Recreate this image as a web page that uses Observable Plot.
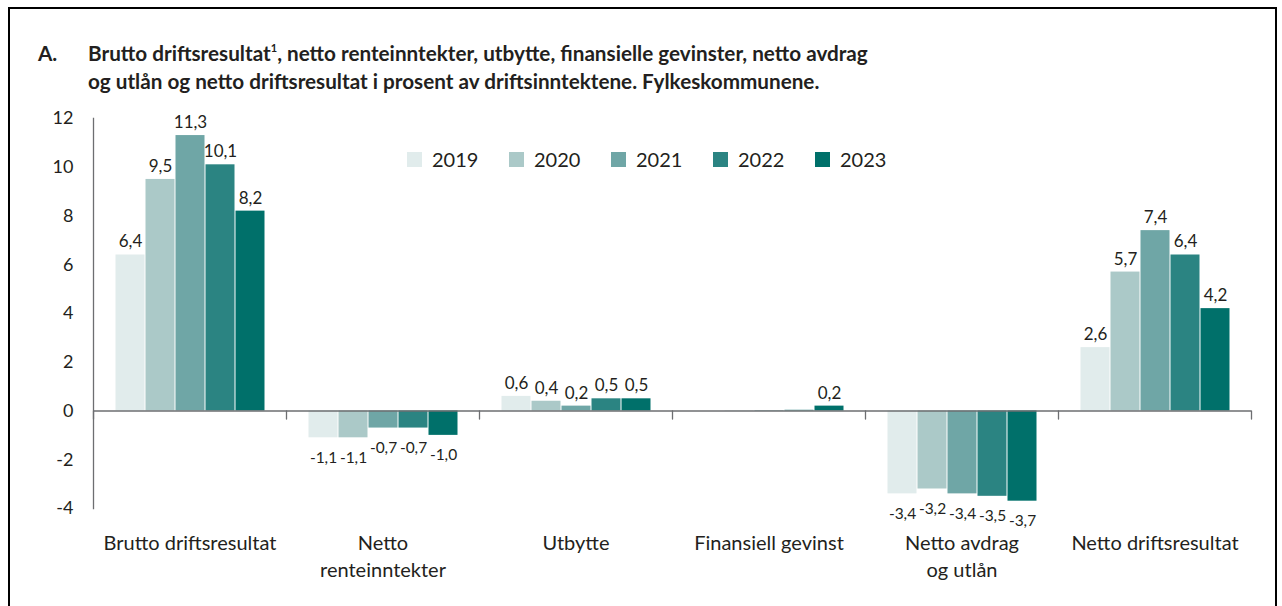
<!DOCTYPE html>
<html><head><meta charset="utf-8">
<script src="https://cdn.jsdelivr.net/npm/d3@7"></script>
<script src="https://cdn.jsdelivr.net/npm/@observablehq/plot@0.6"></script>
<style>
body{margin:0;background:#fff;font-family:Lato,"Noto Sans",sans-serif;color:#231f20}
#wrap{position:relative;width:1282px;height:606px;overflow:hidden;background:#fff}
#border{position:absolute;left:8px;top:7px;width:1269px;height:700px;border:2px solid #000;box-sizing:border-box}
#title{position:absolute;left:38px;top:41px;font-weight:700;font-size:20.7px;line-height:25px;display:flex}
#title .lab{width:50px}
#title sup{font-size:11px;vertical-align:0;position:relative;top:-9px}
#chart{position:absolute;left:0;top:100px}
#legend{position:absolute;left:407px;top:147px;display:flex;font-size:20px;z-index:2}
#legend .item{width:102px;display:flex;align-items:center}
#legend .sw{width:15px;height:15px;margin-right:10px}
</style></head>
<body><div id="wrap">
<div id="border"></div>
<div id="title"><div class="lab">A.</div><div>Brutto driftsresultat<sup>1</sup>, netto renteinntekter, utbytte, finansielle gevinster, netto avdrag<br>og utlån og netto driftsresultat i prosent av driftsinntektene. Fylkeskommunene.</div></div>
<div id="chart"></div>
<div id="legend"></div>
</div>
<script>
const categories = ["Brutto driftsresultat", "Netto\nrenteinntekter", "Utbytte", "Finansiell gevinst", "Netto avdrag\nog utlån", "Netto driftsresultat"];
const years = ["2019", "2020", "2021", "2022", "2023"];
const values2019 = [6.4, -1.1, 0.6, 0.0, -3.4, 2.6];
const values2020 = [9.5, -1.1, 0.4, 0.01, -3.2, 5.7];
const values2021 = [11.3, -0.7, 0.2, 0.02, -3.4, 7.4];
const values2022 = [10.1, -0.7, 0.5, 0.03, -3.5, 6.4];
const values2023 = [8.2, -1.0, 0.5, 0.2, -3.7, 4.2];
const colors = ["#e1ecec", "#abc9c8", "#6fa6a6", "#2b8482", "#00706a"];
const yTicks = [-4, -2, 0, 2, 4, 6, 8, 10, 12];

const series = [values2019, values2020, values2021, values2022, values2023];
const data = [];
years.forEach((yr, i) => categories.forEach((c, j) => data.push({category: c, year: yr, value: series[i][j]})));
const fmt = v => v.toFixed(1).replace(".", ",");
const pos = data.filter(d => d.value >= 0.05);
const neg = data.filter(d => d.value <= -0.05);

const tickShape = {draw(context, l) { context.moveTo(0, 0); context.lineTo(0, -l); }};

const plot = Plot.plot({
  width: 1282, height: 506,
  marginLeft: 91, marginRight: 29, marginTop: 18, marginBottom: 98,
  style: {fontFamily: "Lato, 'Noto Sans', sans-serif", fontSize: "18px", color: "#231f20", background: "transparent"},
  fx: {domain: categories, padding: 0, label: null, axis: null},
  x: {domain: years, paddingInner: 0, paddingOuter: 0.7, axis: null},
  y: {domain: [-4, 12], ticks: yTicks, label: null, axis: null},
  color: {domain: years, range: colors},
  marks: [
    Plot.barY(data, {fx: "category", x: "year", y: "value", fill: "year", insetLeft: 0.5, insetRight: 0.5}),
    Plot.ruleY([0], {stroke: "#6d6e71", strokeWidth: 1.3}),
    Plot.frame({anchor: "left", fx: () => categories[0], stroke: "#6d6e71", strokeWidth: 1.3}),
    Plot.vector([0], {y: d => d, frameAnchor: "left", length: 8, rotate: 180, anchor: "start", shape: tickShape, stroke: "#6d6e71", strokeWidth: 1.3}),
    Plot.vector([categories[5]], {fx: d => d, y: () => 0, frameAnchor: "right", length: 8, rotate: 180, anchor: "start", shape: tickShape, stroke: "#6d6e71", strokeWidth: 1.3}),
    Plot.text(pos, {fx: "category", x: "year", y: "value", text: d => fmt(d.value), dy: -13, fontSize: 17, fill: "#231f20"}),
    Plot.text(neg, {fx: "category", x: "year", y: "value", text: d => fmt(d.value), dy: 20, fontSize: 15.5, fill: "#231f20"}),
    Plot.axisY(yTicks, {tickSize: 0, tickPadding: 20, fontSize: 18, tickFormat: d => String(d)}),
    Plot.axisFx({anchor: "bottom", tickSize: 0, tickPadding: 22, fontSize: 20, lineHeight: 1.35, label: null})
  ]
});
document.getElementById("chart").appendChild(plot);

const legend = document.getElementById("legend");
years.forEach((yr, i) => {
  const item = document.createElement("div");
  item.className = "item";
  item.innerHTML = `<span class="sw" style="background:${colors[i]}"></span><span>${yr}</span>`;
  legend.appendChild(item);
});
</script>
</body></html>
